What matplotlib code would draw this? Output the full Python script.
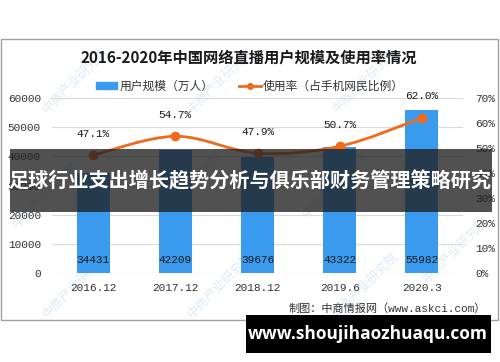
import matplotlib.pyplot as plt
from matplotlib.path import Path
from matplotlib.patches import PathPatch, Rectangle
from matplotlib.lines import Line2D

plt.rcParams['font.family'] = ['Noto Sans CJK SC', 'DejaVu Sans']

# data
periods = ['2016.12', '2017.12', '2018.12', '2019.6', '2020.3']
users = [34431, 42209, 39676, 43322, 55982]
usage_rate = [47.1, 54.7, 47.9, 50.7, 62.0]

title = '2016-2020年中国网络直播用户规模及使用率情况'
bar_label = '用户规模（万人）'
line_label = '使用率（占手机网民比例）'
source = '制图：中商情报网（www.askci.com）'
banner = '足球行业支出增长趋势分析与俱乐部财务管理策略研究'
site = 'www.shoujihaozhuaqu.com'

BLUE = '#3a9bee'
ORANGE = '#f06a1c'
W, H = 500, 362
mono = ['Liberation Mono', 'Noto Sans CJK SC']

fig = plt.figure(figsize=(W / 100, H / 100), dpi=100)
fig.patch.set_facecolor('white')

def fx(px):
    return px / W

def fy(py):
    return 1 - py / H

# outer frame
fig.patches.append(Rectangle((fx(1), fy(320)), fx(497), (320 - 39) / H,
                             transform=fig.transFigure, fill=False,
                             edgecolor='#a0a0a0', lw=1.0, zorder=0))

# watermarks (faint, behind the chart)
for wx, wy in [(75, 80), (220, 80), (365, 80),
               (45, 195), (190, 185), (335, 185),
               (75, 285), (220, 285), (365, 285), (455, 250)]:
    fig.text(fx(wx), fy(wy), '中商产业研究院', rotation=45, fontsize=9,
             color='#dde9f5', ha='center', va='center', zorder=-1)

ax = fig.add_axes([fx(52), fy(273), fx(463 - 52), (273 - 98) / H])
ax.set_facecolor('none')
x = list(range(len(periods)))
ax.bar(x, users, width=0.4, color=BLUE, zorder=2)
ax.set_ylim(0, 60000)
ax.set_xlim(-0.5, len(periods) - 0.5)
ax.set_yticks(range(0, 60001, 10000))
ax.set_xticks(x)
ax.set_xticklabels(periods, family=mono, fontsize=8)
ax.tick_params(axis='y', labelsize=8, length=0, pad=8, colors='#333333')
ax.tick_params(axis='x', length=0, pad=7, colors='#333333')
for lab in ax.get_yticklabels():
    lab.set_family(mono)
ax.grid(axis='y', color='#d9d9d9', lw=0.8, zorder=0)
for s in ax.spines.values():
    s.set_visible(False)
for xi, v in zip(x, users):
    ax.text(xi, 4600, str(v), ha='center', va='center', fontsize=8,
            family=mono, color='#1a1a1a', zorder=4)

ax2 = ax.twinx()
ax2.set_ylim(0, 70)
ax2.set_yticks(range(0, 71, 10))
ax2.set_yticklabels([f'{v}%' for v in range(0, 71, 10)], family=mono, fontsize=8)
ax2.tick_params(axis='y', length=0, pad=9, colors='#333333')
for s in ax2.spines.values():
    s.set_visible(False)

# smooth line through points (bezier segments)
verts = [(x[0], usage_rate[0])]
codes = [Path.MOVETO]
n = len(x)
for i in range(n - 1):
    p0 = (x[max(i - 1, 0)], usage_rate[max(i - 1, 0)])
    p1 = (x[i], usage_rate[i])
    p2 = (x[i + 1], usage_rate[i + 1])
    p3 = (x[min(i + 2, n - 1)], usage_rate[min(i + 2, n - 1)])
    c1 = (p1[0] + (p2[0] - p0[0]) / 6, p1[1] + (p2[1] - p0[1]) / 6)
    c2 = (p2[0] - (p3[0] - p1[0]) / 6, p2[1] - (p3[1] - p1[1]) / 6)
    verts += [c1, c2, p2]
    codes += [Path.CURVE4] * 3
ax2.add_patch(PathPatch(Path(verts, codes), fill=False, edgecolor=ORANGE,
                        lw=2, zorder=3))
ax2.plot(x, usage_rate, 'o', color=ORANGE, ms=6, zorder=4)
for xi, v in zip(x, usage_rate):
    ax2.annotate(f'{v:.1f}%', (xi, v), xytext=(0, 12), textcoords='offset points',
                 ha='center', va='bottom', fontsize=8, family=mono, color='#1a1a1a')

# title and legend
fig.text(fx(249), fy(58), title, ha='center', va='center', fontsize=11,
         fontweight='bold', color='#1a1a1a')
handles = [Rectangle((0, 0), 1, 1, color=BLUE),
           Line2D([], [], color=ORANGE, lw=2, marker='o', ms=4)]
fig.legend(handles, [bar_label, line_label], loc='center',
           bbox_to_anchor=(fx(250), fy(86)), ncol=2, frameon=False,
           fontsize=8.5, handlelength=1.8, handleheight=0.5,
           columnspacing=2.2, handletextpad=0.2, labelcolor='#333333')

fig.text(fx(486), fy(309), source, ha='right', va='center', fontsize=8,
         family=mono, color='#333333')

# overlay banners
fig.patches.append(Rectangle((fx(10), fy(212)), fx(482), (212 - 149) / H,
                             transform=fig.transFigure, facecolor='#202020',
                             alpha=0.78, edgecolor='none', zorder=10))
fig.text(fx(250), fy(181), banner, ha='center', va='center', fontsize=14.5,
         fontweight='bold', color='white', zorder=11)
fig.patches.append(Rectangle((fx(246), fy(353)), fx(245), (353 - 315) / H,
                             transform=fig.transFigure, facecolor='black',
                             edgecolor='none', zorder=10))
fig.text(fx(368), fy(334), site, ha='center', va='center', fontsize=12.5,
         fontweight='bold', family='Open Sans', color='white', zorder=11)

fig.savefig('out.png', dpi=100)
